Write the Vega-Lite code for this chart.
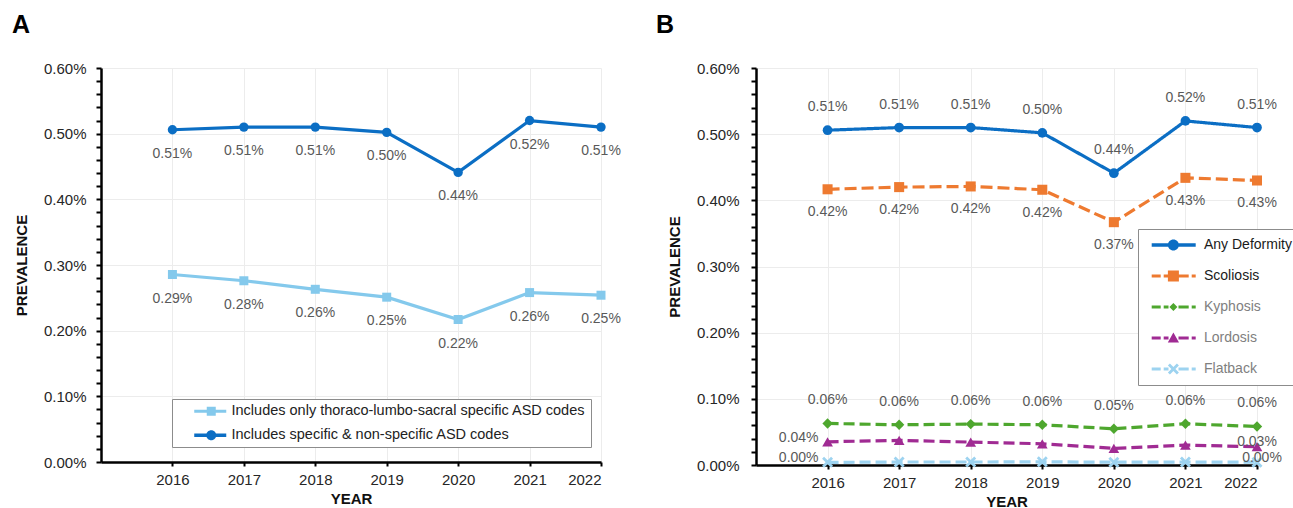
{
  "$schema": "https://vega.github.io/schema/vega-lite/v6.json",
  "autosize": {"type": "pad"},
  "padding": {"left": 12, "top": 13, "right": 0, "bottom": 0},
  "background": "white",
  "datasets": {
    "a": [
      {"year": 2016, "series": "Includes only thoraco-lumbo-sacral specific ASD codes", "value": 0.002855},
      {"year": 2017, "series": "Includes only thoraco-lumbo-sacral specific ASD codes", "value": 0.00276},
      {"year": 2018, "series": "Includes only thoraco-lumbo-sacral specific ASD codes", "value": 0.00263},
      {"year": 2019, "series": "Includes only thoraco-lumbo-sacral specific ASD codes", "value": 0.00251},
      {"year": 2020, "series": "Includes only thoraco-lumbo-sacral specific ASD codes", "value": 0.00217},
      {"year": 2021, "series": "Includes only thoraco-lumbo-sacral specific ASD codes", "value": 0.00258},
      {"year": 2022, "series": "Includes only thoraco-lumbo-sacral specific ASD codes", "value": 0.00254},
      {"year": 2016, "series": "Includes specific & non-specific ASD codes", "value": 0.00506},
      {"year": 2017, "series": "Includes specific & non-specific ASD codes", "value": 0.0051},
      {"year": 2018, "series": "Includes specific & non-specific ASD codes", "value": 0.0051},
      {"year": 2019, "series": "Includes specific & non-specific ASD codes", "value": 0.00502},
      {"year": 2020, "series": "Includes specific & non-specific ASD codes", "value": 0.00441},
      {"year": 2021, "series": "Includes specific & non-specific ASD codes", "value": 0.0052},
      {"year": 2022, "series": "Includes specific & non-specific ASD codes", "value": 0.0051}
    ],
    "b": [
      {"year": 2016, "series": "Any Deformity", "value": 0.00506},
      {"year": 2017, "series": "Any Deformity", "value": 0.0051},
      {"year": 2018, "series": "Any Deformity", "value": 0.0051},
      {"year": 2019, "series": "Any Deformity", "value": 0.00502},
      {"year": 2020, "series": "Any Deformity", "value": 0.00441},
      {"year": 2021, "series": "Any Deformity", "value": 0.0052},
      {"year": 2022, "series": "Any Deformity", "value": 0.0051},
      {"year": 2016, "series": "Scoliosis", "value": 0.004167},
      {"year": 2017, "series": "Scoliosis", "value": 0.0042},
      {"year": 2018, "series": "Scoliosis", "value": 0.00421},
      {"year": 2019, "series": "Scoliosis", "value": 0.00416},
      {"year": 2020, "series": "Scoliosis", "value": 0.00367},
      {"year": 2021, "series": "Scoliosis", "value": 0.00434},
      {"year": 2022, "series": "Scoliosis", "value": 0.0043},
      {"year": 2016, "series": "Kyphosis", "value": 0.000628},
      {"year": 2017, "series": "Kyphosis", "value": 0.000608},
      {"year": 2018, "series": "Kyphosis", "value": 0.000618},
      {"year": 2019, "series": "Kyphosis", "value": 0.000608},
      {"year": 2020, "series": "Kyphosis", "value": 0.000547},
      {"year": 2021, "series": "Kyphosis", "value": 0.000623},
      {"year": 2022, "series": "Kyphosis", "value": 0.000582},
      {"year": 2016, "series": "Lordosis", "value": 0.000351},
      {"year": 2017, "series": "Lordosis", "value": 0.000372},
      {"year": 2018, "series": "Lordosis", "value": 0.000346},
      {"year": 2019, "series": "Lordosis", "value": 0.000321},
      {"year": 2020, "series": "Lordosis", "value": 0.000251},
      {"year": 2021, "series": "Lordosis", "value": 0.000301},
      {"year": 2022, "series": "Lordosis", "value": 0.000276},
      {"year": 2016, "series": "Flatback", "value": 0.00004},
      {"year": 2017, "series": "Flatback", "value": 0.000045},
      {"year": 2018, "series": "Flatback", "value": 0.000045},
      {"year": 2019, "series": "Flatback", "value": 0.000048},
      {"year": 2020, "series": "Flatback", "value": 0.000042},
      {"year": 2021, "series": "Flatback", "value": 0.000045},
      {"year": 2022, "series": "Flatback", "value": 0.000043}
    ]
  },
  "hconcat": [
    {
      "data": {"name": "a"},
      "width": 500,
      "height": 394,
      "title": {"text": "A", "anchor": "start", "frame": "group", "dx": -89, "offset": -2, "baseline": "bottom", "fontSize": 25, "fontWeight": "bold", "font": "Liberation Sans", "color": "#000000"},
      "layer": [
        {
          "encoding": {
            "x": {"field": "year", "type": "quantitative", "scale": {"domain": [2015, 2022], "nice": false, "zero": false},
              "axis": {"title": "YEAR", "values": [2016, 2017, 2018, 2019, 2020, 2021, 2022], "format": "d", "tickSize": 4, "labelPadding": 6, "titlePadding": 4,
                "encode": {"ticks": {"update": {"y": {"value": -4}, "y2": {"value": 4}}}}}},
            "y": {"field": "value", "type": "quantitative", "scale": {"domain": [0, 0.006], "nice": false},
              "axis": {"title": "PREVALENCE", "format": ".2%", "titlePadding": 14, "labelPadding": 10, "tickSize": 5,
                "values": [0, 0.0002, 0.0004, 0.0006, 0.0008, 0.001, 0.0012, 0.0014, 0.0016, 0.0018, 0.002, 0.0022, 0.0024, 0.0026, 0.0028, 0.003, 0.0032, 0.0034, 0.0036, 0.0038, 0.004, 0.0042, 0.0044, 0.0046, 0.0048, 0.005, 0.0052, 0.0054, 0.0056, 0.0058, 0.006],
                "labelExpr": "round(datum.value*10000) % 10 == 0 ? datum.label : ''",
                "gridOpacity": {"condition": {"test": "round(datum.value*10000) % 10 == 0", "value": 1}, "value": 0},
                "encode": {"ticks": {"update": {"x": {"signal": "round(datum.value*10000) % 10 == 0 ? 5 : 0"}, "x2": {"signal": "round(datum.value*10000) % 10 == 0 ? -4 : -3.5"}}}}}},
            "color": {"field": "series", "type": "nominal", "legend": null,
              "scale": {"domain": ["Includes only thoraco-lumbo-sacral specific ASD codes", "Includes specific & non-specific ASD codes"], "range": ["#84C9EC", "#0B6EC4"]}}
          },
          "layer": [
            {"mark": {"type": "line", "strokeWidth": 3.2}},
            {"mark": {"type": "point", "filled": true, "opacity": 1},
              "encoding": {
                "shape": {"field": "series", "type": "nominal", "legend": null, "scale": {"domain": ["Includes only thoraco-lumbo-sacral specific ASD codes", "Includes specific & non-specific ASD codes"], "range": ["square", "circle"]}},
                "size": {"field": "series", "type": "nominal", "legend": null, "scale": {"domain": ["Includes only thoraco-lumbo-sacral specific ASD codes", "Includes specific & non-specific ASD codes"], "range": [81, 121]}}
              }},
            {"mark": {"type": "text", "dy": 24, "fontSize": 14, "font": "Liberation Sans"},
              "encoding": {"text": {"field": "value", "type": "quantitative", "format": ".2%"}, "color": {"value": "#595959"}}}
          ]
        },
        {
          "transform": [{"filter": "false"}],
          "mark": {"type": "point", "filled": true, "opacity": 1, "size": 100, "strokeWidth": 0},
          "encoding": {
            "color": {"field": "series", "type": "nominal",
              "scale": {"domain": ["Includes only thoraco-lumbo-sacral specific ASD codes", "Includes specific & non-specific ASD codes"], "range": ["#84C9EC", "#0B6EC4"]},
              "legend": {"title": null, "orient": "none", "legendX": 71, "legendY": 331, "padding": 5, "strokeColor": "#8c8c8c", "fillColor": "white", "labelFont": "Liberation Sans", "labelFontSize": 14.5, "labelColor": "#222222", "labelOffset": 40, "rowPadding": 9, "symbolSize": 100, "symbolStrokeWidth": 0, "labelLimit": 600}},
            "shape": {"field": "series", "type": "nominal",
              "scale": {"domain": ["Includes only thoraco-lumbo-sacral specific ASD codes", "Includes specific & non-specific ASD codes"],
                "range": ["M2,-0.3H8.4V0.3H2ZM4.5,-0.9H6.3V0.9H4.5Z", "M2,-0.35H8.4V0.35H2ZM4.4,0A1,1,0,1,1,6.4,0A1,1,0,1,1,4.4,0Z"]},
              "legend": {"title": null, "orient": "none", "legendX": 71, "legendY": 331, "padding": 5, "strokeColor": "#8c8c8c", "fillColor": "white", "labelFont": "Liberation Sans", "labelFontSize": 14.5, "labelColor": "#222222", "labelOffset": 40, "rowPadding": 9, "symbolSize": 100, "symbolStrokeWidth": 0, "labelLimit": 600}}
          }
        }
      ],
      "resolve": {"scale": {"color": "independent", "shape": "independent"}}
    },
    {
      "data": {"name": "b"},
      "width": 501,
      "height": 397,
      "title": {"text": "B", "anchor": "start", "frame": "group", "dx": -100, "offset": -2, "baseline": "bottom", "fontSize": 25, "fontWeight": "bold", "font": "Liberation Sans", "color": "#000000"},
      "layer": [
        {
          "encoding": {
            "x": {"field": "year", "type": "quantitative", "scale": {"domain": [2015, 2022], "nice": false, "zero": false},
              "axis": {"title": "YEAR", "values": [2016, 2017, 2018, 2019, 2020, 2021, 2022], "format": "d", "tickSize": 4, "labelPadding": 6, "titlePadding": 4,
                "encode": {"ticks": {"update": {"y": {"value": -4}, "y2": {"value": 4}}}}}},
            "y": {"field": "value", "type": "quantitative", "scale": {"domain": [0, 0.006], "nice": false},
              "axis": {"title": "PREVALENCE", "format": ".2%", "titlePadding": 14, "labelPadding": 12, "tickSize": 5,
                "values": [0, 0.0002, 0.0004, 0.0006, 0.0008, 0.001, 0.0012, 0.0014, 0.0016, 0.0018, 0.002, 0.0022, 0.0024, 0.0026, 0.0028, 0.003, 0.0032, 0.0034, 0.0036, 0.0038, 0.004, 0.0042, 0.0044, 0.0046, 0.0048, 0.005, 0.0052, 0.0054, 0.0056, 0.0058, 0.006],
                "labelExpr": "round(datum.value*10000) % 10 == 0 ? datum.label : ''",
                "gridOpacity": {"condition": {"test": "round(datum.value*10000) % 10 == 0", "value": 1}, "value": 0},
                "encode": {"ticks": {"update": {"x": {"signal": "round(datum.value*10000) % 10 == 0 ? 5 : 0"}, "x2": {"signal": "round(datum.value*10000) % 10 == 0 ? -4 : -3.5"}}}}}},
            "color": {"field": "series", "type": "nominal", "legend": null,
              "scale": {"domain": ["Any Deformity", "Scoliosis", "Kyphosis", "Lordosis", "Flatback"], "range": ["#0B6EC4", "#EE7A30", "#4EA72E", "#A02B93", "#9DD3F0"]}}
          },
          "layer": [
            {"mark": {"type": "line", "strokeWidth": 3.2},
              "encoding": {"strokeDash": {"field": "series", "type": "nominal", "legend": null,
                "scale": {"domain": ["Any Deformity", "Scoliosis", "Kyphosis", "Lordosis", "Flatback"], "range": [[1, 0], [12, 5], [11, 5], [11, 5], [11, 5]]}}}},
            {"mark": {"type": "point", "filled": true, "opacity": 1, "strokeWidth": 0},
              "encoding": {
                "shape": {"field": "series", "type": "nominal", "legend": null, "scale": {"domain": ["Any Deformity", "Scoliosis", "Kyphosis", "Lordosis", "Flatback"],
                  "range": ["circle", "square", "diamond", "triangle-up", "M-1,-0.64L-0.64,-1L0,-0.36L0.64,-1L1,-0.64L0.36,0L1,0.64L0.64,1L0,0.36L-0.64,1L-1,0.64L-0.36,0Z"]}},
                "size": {"field": "series", "type": "nominal", "legend": null, "scale": {"domain": ["Any Deformity", "Scoliosis", "Kyphosis", "Lordosis", "Flatback"], "range": [121, 110, 72, 110, 121]}}
              }},
            {"transform": [{"filter": {"field": "series", "oneOf": ["Any Deformity", "Kyphosis"]}}],
              "mark": {"type": "text", "dy": -23, "fontSize": 14, "font": "Liberation Sans"},
              "encoding": {"text": {"field": "value", "type": "quantitative", "format": ".2%"}, "color": {"value": "#595959"}}},
            {"transform": [{"filter": "datum.series == 'Scoliosis'"}],
              "mark": {"type": "text", "dy": 23, "fontSize": 14, "font": "Liberation Sans"},
              "encoding": {"text": {"field": "value", "type": "quantitative", "format": ".2%"}, "color": {"value": "#595959"}}},
            {"transform": [{"filter": "(datum.series == 'Lordosis' || datum.series == 'Flatback') && datum.year == 2016"}],
              "mark": {"type": "text", "dy": -4, "dx": -9, "align": "right", "fontSize": 14, "font": "Liberation Sans"},
              "encoding": {"text": {"field": "value", "type": "quantitative", "format": ".2%"}, "color": {"value": "#595959"}}},
            {"transform": [{"filter": "datum.series == 'Lordosis' && datum.year == 2022"}],
              "mark": {"type": "text", "dy": -5, "fontSize": 14, "font": "Liberation Sans"},
              "encoding": {"text": {"field": "value", "type": "quantitative", "format": ".2%"}, "color": {"value": "#595959"}}},
            {"transform": [{"filter": "datum.series == 'Flatback' && datum.year == 2022"}],
              "mark": {"type": "text", "dy": -4, "dx": 5, "fontSize": 14, "font": "Liberation Sans"},
              "encoding": {"text": {"field": "value", "type": "quantitative", "format": ".2%"}, "color": {"value": "#595959"}}}
          ]
        },
        {
          "transform": [{"filter": "false"}],
          "mark": {"type": "point", "filled": true, "opacity": 1, "size": 100, "strokeWidth": 0},
          "encoding": {
            "color": {"field": "series", "type": "nominal",
              "scale": {"domain": ["Any Deformity", "Scoliosis", "Kyphosis", "Lordosis", "Flatback"], "range": ["#0B6EC4", "#EE7A30", "#4EA72E", "#A02B93", "#9DD3F0"]},
              "legend": {"title": null, "orient": "none", "legendX": 382, "legendY": 161, "padding": 9, "strokeColor": "#8c8c8c", "fillColor": "white", "labelFont": "Liberation Sans", "labelFontSize": 14, "labelOffset": 43, "rowPadding": 17, "symbolSize": 100, "symbolStrokeWidth": 0, "labelLimit": 600,
                "labelColor": {"expr": "datum.value == 'Any Deformity' || datum.value == 'Scoliosis' ? '#1a1a1a' : '#808080'"}}},
            "shape": {"field": "series", "type": "nominal",
              "scale": {"domain": ["Any Deformity", "Scoliosis", "Kyphosis", "Lordosis", "Flatback"],
                "range": [
                  "M-0.46,-0.35H8.34V0.35H-0.46ZM2.78,0A1.1,1.1,0,1,1,4.98,0A1.1,1.1,0,1,1,2.78,0Z",
                  "M-0.46,-0.3H1.34V0.3H-0.46ZM1.94,-0.3H2.9V0.3H1.94ZM4.9,-0.3H6.94V0.3H4.9ZM7.54,-0.3H8.34V0.3H7.54ZM2.78,-1.1H4.98V1.1H2.78Z",
                  "M-0.46,-0.3H1.34V0.3H-0.46ZM1.94,-0.3H2.9V0.3H1.94ZM4.9,-0.3H6.94V0.3H4.9ZM7.54,-0.3H8.34V0.3H7.54ZM3.88,-0.8L4.68,0L3.88,0.8L3.08,0Z",
                  "M-0.46,-0.3H1.34V0.3H-0.46ZM1.94,-0.3H2.9V0.3H1.94ZM4.9,-0.3H6.94V0.3H4.9ZM7.54,-0.3H8.34V0.3H7.54ZM3.88,-1.1L5,0.9H2.76Z",
                  "M-0.46,-0.3H1.34V0.3H-0.46ZM1.94,-0.3H2.9V0.3H1.94ZM4.9,-0.3H6.94V0.3H4.9ZM7.54,-0.3H8.34V0.3H7.54ZM2.78,-0.7L3.18,-1.1L3.88,-0.4L4.58,-1.1L4.98,-0.7L4.28,0L4.98,0.7L4.58,1.1L3.88,0.4L3.18,1.1L2.78,0.7L3.48,0Z"
                ]},
              "legend": {"title": null, "orient": "none", "legendX": 382, "legendY": 161, "padding": 9, "strokeColor": "#8c8c8c", "fillColor": "white", "labelFont": "Liberation Sans", "labelFontSize": 14, "labelOffset": 43, "rowPadding": 17, "symbolSize": 100, "symbolStrokeWidth": 0, "labelLimit": 600,
                "labelColor": {"expr": "datum.value == 'Any Deformity' || datum.value == 'Scoliosis' ? '#1a1a1a' : '#808080'"}}}
          }
        }
      ],
      "resolve": {"scale": {"color": "independent", "shape": "independent"}}
    }
  ],
  "spacing": 155,
  "bounds": "flush",
  "config": {
    "view": {"stroke": null},
    "font": "Liberation Sans",
    "axis": {"domainColor": "#000000", "domainWidth": 2.5, "tickColor": "#000000", "tickWidth": 2, "gridColor": "#ececec", "gridWidth": 1,
      "labelFont": "Liberation Sans", "labelFontSize": 15, "labelColor": "#262626",
      "titleFont": "Liberation Sans", "titleFontSize": 15, "titleFontWeight": "bold", "titleColor": "#111111"}
  }
}
